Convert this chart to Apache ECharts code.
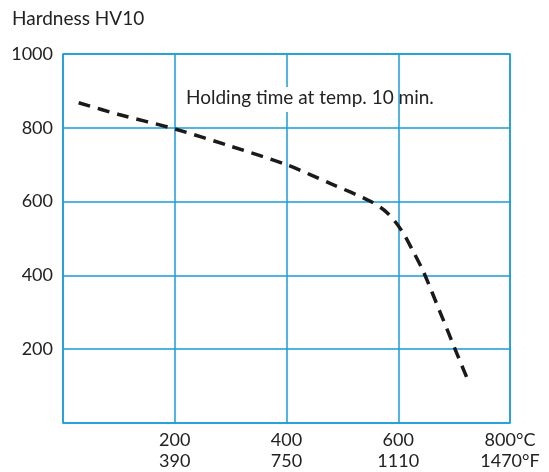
<!DOCTYPE html>
<html><head><meta charset="utf-8">
<script src="https://cdn.jsdelivr.net/npm/echarts@6/dist/echarts.min.js"></script>
<style>html,body{margin:0;padding:0;background:#fff}#c{width:549px;height:472px}</style>
</head><body><div id="c"></div>
<script>
var tempC = [28, 100, 200, 300, 400, 480, 550, 580, 605, 625, 645, 675, 705, 725];
var hardness = [868, 836, 797, 750, 700, 648, 601, 570, 524, 470, 410, 300, 188, 115];
var xTicksC = [200, 400, 600, 800];
var xTicksF = ['390', '750', '1110', '1470'];
var yTicks = [200, 400, 600, 800, 1000];
var yTitle = 'Hardness HV10';
var note = 'Holding time at temp. 10 min.';

var FONT = 'Lato';
var GRID = '#1b9bd7';
var chart = echarts.init(document.getElementById('c'));
chart.setOption({
  animation: false,
  grid: {left: 63, top: 54, right: 39, bottom: 47, show: true, borderColor: GRID, borderWidth: 1.5, backgroundColor: 'transparent'},
  xAxis: {
    type: 'value', min: 0, max: 800, interval: 200,
    axisLine: {show: false}, axisTick: {show: false},
    splitLine: {show: true, lineStyle: {color: GRID, width: 1.5}},
    axisLabel: {
      margin: 7, color: '#222', fontFamily: FONT, fontSize: 18, lineHeight: 21,
      formatter: function (v) {
        var i = xTicksC.indexOf(v);
        if (i < 0) return '';
        if (v === 800) return v + '°C\n' + xTicksF[i] + '°F';
        return v + '\n' + xTicksF[i];
      }
    }
  },
  yAxis: {
    type: 'value', min: 0, max: 1000, interval: 200,
    axisLine: {show: false}, axisTick: {show: false},
    splitLine: {show: true, lineStyle: {color: GRID, width: 1.5}},
    axisLabel: {
      margin: 10, color: '#222', fontFamily: FONT, fontSize: 18,
      formatter: function (v) { return yTicks.indexOf(v) >= 0 ? String(v) : ''; }
    }
  },
  graphic: [
    {type: 'text', left: 12, top: 9, style: {text: yTitle, fill: '#222', font: '19px ' + FONT}},
    {type: 'rect', shape: {x: 182, y: 87, width: 212, height: 25}, style: {fill: '#fff'}, z: 1},
    {type: 'text', left: 186, top: 88, z: 2, style: {text: note, fill: '#222', font: '19px ' + FONT}}
  ],
  series: [{
    type: 'line', smooth: 0.3, symbol: 'none',
    data: tempC.map(function (t, i) { return [t, hardness[i]]; }),
    lineStyle: {color: '#1a1a1a', width: 3.5, type: [12, 8]}
  }]
});
</script></body></html>
